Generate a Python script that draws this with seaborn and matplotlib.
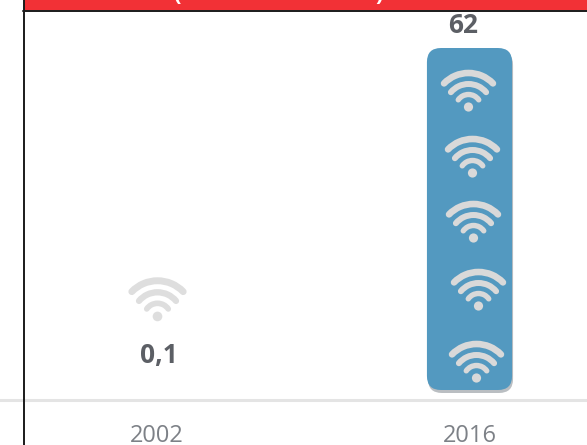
#!/usr/bin/env python

import matplotlib
matplotlib.use("Agg")
import matplotlib.pyplot as plt
import numpy as np
import pandas as pd
import seaborn as sns
from matplotlib.lines import Line2D
from matplotlib.patches import FancyBboxPatch, PathPatch, Rectangle
from matplotlib.path import Path
from matplotlib.transforms import Affine2D, IdentityTransform

years = ["2002", "2016"]
values = [0.1, 62]
value_labels = ["0,1", "62"]

WIDTH = 587
HEIGHT = 445
BLUE = "#5399c0"


def wifi_icon(ax, x, y, color, scale=1.0):
    """draw one wifi glyph, x and y are pixels of the dot centre"""
    arcs = [(34.0, 46, 6.6), (23.0, 50, 6.0), (12.5, 55, 5.4)]
    for radius, half, lw in arcs:
        path = Path.arc(90 - half, 90 + half)
        tr = Affine2D().scale(radius * scale).translate(x, y)
        ax.add_patch(PathPatch(path, transform=tr + IdentityTransform(), fill=False,
                               edgecolor=color, lw=lw * scale * 0.72, capstyle="round",
                               clip_on=False, zorder=5))
    dot = Path.circle((x, y), 4.6 * scale)
    ax.add_patch(PathPatch(dot, transform=IdentityTransform(), facecolor=color,
                           edgecolor="none", clip_on=False, zorder=5))


def create_plot(df):
    sns.set_style("white")
    plt.rcParams["font.family"] = ["Open Sans", "DejaVu Sans"]
    fig = plt.figure(figsize=(WIDTH / 100, HEIGHT / 100), dpi=100)
    ax = fig.add_axes([0, 45 / HEIGHT, 1, 390 / HEIGHT])

    sns.barplot(ax=ax, data=df, x="year", y="value", color=BLUE, width=0.272, saturation=1)

    # scale so that the tall bar spans the same pixels as in the picture
    ax.set_xlim(-156.5 / 313, (587 - 156.5) / 313)
    ax.set_ylim(-10 / 5.516, 380 / 5.516)
    ax.set_xlabel("")
    ax.set_ylabel("")
    ax.set_yticks([])
    ax.tick_params(axis="x", length=0, pad=17, labelsize=17, labelcolor="#7d8187")
    for side in ["top", "left", "right"]:
        ax.spines[side].set_visible(False)
    ax.spines["bottom"].set_color("#e4e4e4")
    ax.spines["bottom"].set_linewidth(2.2)

    fig.canvas.draw()

    # swap the square bar for a rounded one on the same extents
    small, tall = ax.patches[0], ax.patches[1]
    small.set_visible(False)
    tall.set_visible(False)
    x0, y0 = ax.transData.transform((tall.get_x(), 0))
    x1, y1 = ax.transData.transform((tall.get_x() + tall.get_width(), tall.get_height()))
    r = 14
    box = "round,pad=0,rounding_size=%d" % r
    ax.add_patch(FancyBboxPatch((x0 + 1, y0 - 3), x1 - x0, y1 - y0, boxstyle=box,
                                transform=IdentityTransform(), facecolor="#9da3a8",
                                edgecolor="none", alpha=0.7, zorder=2))
    ax.add_patch(FancyBboxPatch((x0, y0), x1 - x0, y1 - y0, boxstyle=box,
                                transform=IdentityTransform(), facecolor=BLUE,
                                edgecolor="none", zorder=3))

    # icons inside the tall bar, offsets from centre / top of the bar
    xc = (x0 + x1) / 2
    for dx, dy in zip([-1, 3, 4, 9, 7], [59, 125, 190, 258, 330]):
        wifi_icon(ax, xc + dx, y1 - dy, "#d9d9d9")

    # pale icon of the 2002 column
    xs, ys = ax.transData.transform((0, values[0]))
    wifi_icon(ax, xs + 1, ys - 72 + 145, "#dedede", 1.05)

    ax.annotate(value_labels[0], (0, values[0]), xytext=(2, 34), textcoords="offset pixels",
                ha="center", va="center", fontsize=19, fontweight="bold", color="#5c5f65")
    ax.annotate(value_labels[1], (1, values[1]), xytext=(-6, 23), textcoords="offset pixels",
                ha="center", va="center", fontsize=19, fontweight="bold", color="#5c5f65")

    # clipped header band on top
    fig.add_artist(Rectangle((24 / WIDTH, 1 - 10 / HEIGHT), 1 - 24 / WIDTH, 10 / HEIGHT,
                             transform=fig.transFigure, facecolor="#f23136", edgecolor="none"))
    fig.add_artist(Line2D([23 / WIDTH, 1], [1 - 10.5 / HEIGHT] * 2, color="#1a1a1a", lw=1.4))
    fig.add_artist(Line2D([24 / WIDTH] * 2, [0, 1], color="#1a1a1a", lw=1.4))
    fig.text(177 / WIDTH, 1 + 6 / HEIGHT, "(", color="white", fontsize=16, fontweight="bold",
             ha="center", va="center")
    fig.text(379 / WIDTH, 1 + 6 / HEIGHT, ")", color="white", fontsize=16, fontweight="bold",
             ha="center", va="center")

    fig.savefig("out.png", dpi=100)
    plt.close(fig)


def main():
    df = pd.DataFrame({"year": years, "value": np.array(values)})
    create_plot(df)


if __name__ == "__main__":
    main()
